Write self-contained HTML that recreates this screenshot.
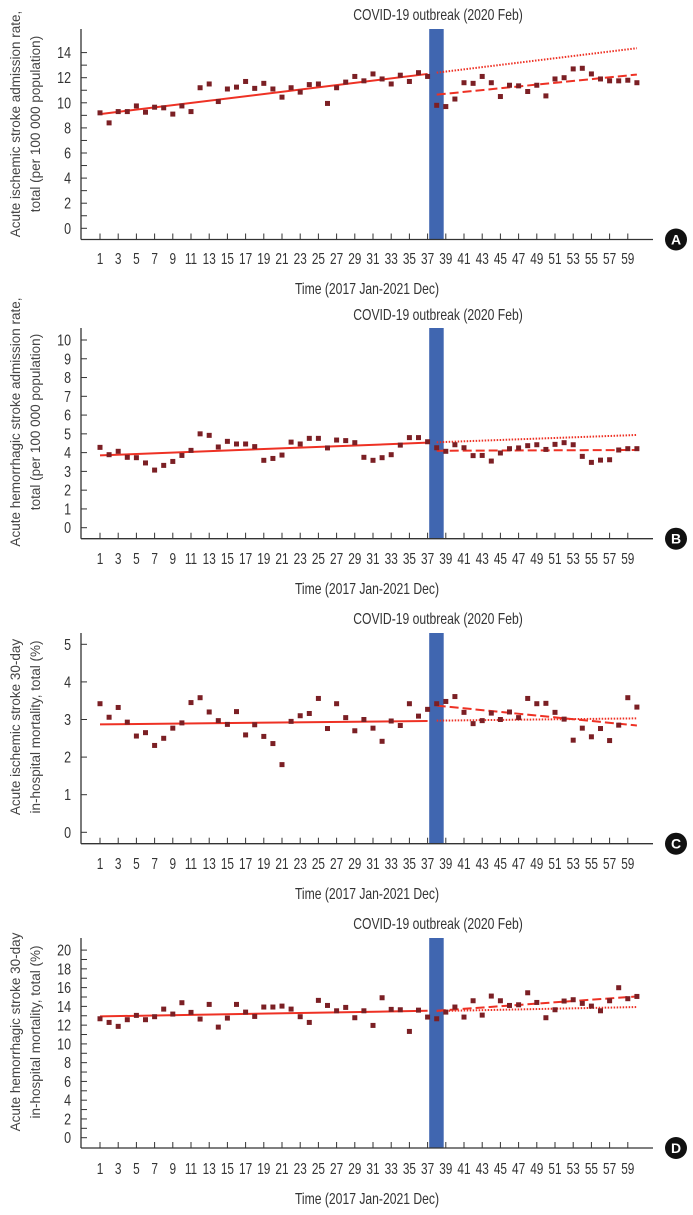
<!DOCTYPE html>
<html><head><meta charset="utf-8"><style>
html,body{margin:0;padding:0;background:#fff;}
svg{display:block;}
text{font-family:"Liberation Sans",sans-serif;}
</style></head><body>
<svg id="chart" width="693" height="1215" viewBox="0 0 693 1215" xmlns="http://www.w3.org/2000/svg"></svg>
<script>
// ---- data ----
const months = Array.from({length:60},(_,i)=>i+1);
const xTickLabels = [1,3,5,7,9,11,13,15,17,19,21,23,25,27,29,31,33,35,37,39,41,43,45,47,49,51,53,55,57,59];
const interventionMonth = 38;

const ischemicAdmission = [9.2,8.4,9.3,9.3,9.75,9.25,9.65,9.6,9.1,9.75,9.3,11.2,11.5,10.1,11.1,11.25,11.7,11.15,11.55,11.1,10.45,11.2,10.85,11.45,11.5,9.95,11.2,11.65,12.1,11.75,12.3,11.9,11.5,12.2,11.7,12.4,12.1,9.8,9.7,10.3,11.6,11.55,12.1,11.6,10.5,11.4,11.35,10.9,11.4,10.55,11.9,12.0,12.7,12.75,12.3,11.9,11.75,11.75,11.8,11.6];
const hemorrhagicAdmission = [4.28,3.89,4.07,3.75,3.73,3.45,3.07,3.32,3.53,3.85,4.12,5.0,4.92,4.3,4.6,4.46,4.46,4.32,3.59,3.69,3.87,4.56,4.46,4.76,4.76,4.25,4.67,4.64,4.53,3.75,3.59,3.73,3.89,4.4,4.8,4.8,4.58,4.26,4.07,4.42,4.26,3.84,3.85,3.55,3.98,4.21,4.25,4.37,4.42,4.17,4.44,4.53,4.42,3.8,3.48,3.6,3.62,4.14,4.21,4.21];
const ischemicMortality = [3.42,3.06,3.32,2.93,2.56,2.65,2.31,2.5,2.77,2.91,3.45,3.58,3.2,2.97,2.87,3.21,2.59,2.86,2.55,2.36,1.8,2.95,3.1,3.16,3.56,2.76,3.42,3.05,2.7,3.0,2.77,2.42,2.96,2.84,3.42,3.09,3.27,3.42,3.48,3.61,3.19,2.89,2.97,3.17,3.0,3.2,3.05,3.56,3.42,3.43,3.19,3.01,2.45,2.77,2.54,2.76,2.44,2.85,3.58,3.33];
const hemorrhagicMortality = [12.68,12.29,11.87,12.58,13.04,12.58,12.9,13.71,13.18,14.39,13.36,12.65,14.21,11.79,12.75,14.21,13.39,12.93,13.93,13.93,14.03,13.71,12.9,12.29,14.64,14.1,13.53,13.89,12.79,13.53,11.97,14.92,13.68,13.64,11.33,13.6,12.86,12.68,13.39,13.93,12.86,14.6,13.07,15.1,14.6,14.1,14.17,15.45,14.42,12.79,13.64,14.57,14.71,14.32,14.03,13.53,14.6,15.99,14.82,15.06];

// trend endpoints [value at start, value at end]
const preTrendA = [9.1,12.3], postTrendA = [10.65,12.25], cfTrendA = [12.4,14.35];
const preTrendB = [3.85,4.53], postTrendB = [4.1,4.14], cfTrendB = [4.55,4.94];
const preTrendC = [2.87,2.96], postTrendC = [3.37,2.84], cfTrendC = [2.97,3.03];
const preTrendD = [12.93,13.53], postTrendD = [13.53,15.06], cfTrendD = [13.5,13.93];

const yTicksA = [0,2,4,6,8,10,12,14];
const yTicksB = [0,1,2,3,4,5,6,7,8,9,10];
const yTicksC = [0,1,2,3,4,5];
const yTicksD = [0,2,4,6,8,10,12,14,16,18,20];

// ---- layout ----
const NS="http://www.w3.org/2000/svg";
const svg=document.getElementById('chart');
function mk(tag,attrs,parent){const e=document.createElementNS(NS,tag);for(const k in attrs)e.setAttribute(k,attrs[k]);(parent||svg).appendChild(e);return e;}
const xAxisLeft=81, xAxisRight=653;
function xScale(m){return 100+(m-1)*9.1;}

const panels=[
 {id:'a',letter:'A',data:ischemicAdmission,pre:preTrendA,post:postTrendA,cf:cfTrendA,ticks:yTicksA,minor:1,y0:228.3,unit:12.55,top:29,axisY:239.5,labY:258,titleY:15,timeY:288,yt1:'Acute ischemic stroke admission rate,',yt2:'total (per 100 000 population)',ytc:124},
 {id:'b',letter:'B',data:hemorrhagicAdmission,pre:preTrendB,post:postTrendB,cf:cfTrendB,ticks:yTicksB,minor:0,y0:527.7,unit:18.77,top:328,axisY:538.7,labY:558,titleY:315,timeY:588,yt1:'Acute hemorrhagic stroke admission rate,',yt2:'total (per 100 000 population)',ytc:422},
 {id:'c',letter:'C',data:ischemicMortality,pre:preTrendC,post:postTrendC,cf:cfTrendC,ticks:yTicksC,minor:0,y0:832.3,unit:37.6,top:633,axisY:843.7,labY:863,titleY:619,timeY:893,yt1:'Acute ischemic stroke 30-day',yt2:'in-hospital mortality, total (%)',ytc:727},
 {id:'d',letter:'D',data:hemorrhagicMortality,pre:preTrendD,post:postTrendD,cf:cfTrendD,ticks:yTicksD,minor:1,y0:1137.7,unit:9.38,top:938,axisY:1148,labY:1168,titleY:924,timeY:1198,yt1:'Acute hemorrhagic stroke 30-day',yt2:'in-hospital mortality, total (%)',ytc:1032}
];

panels.forEach(p=>{
  const g=mk('g',{});
  
  
  const yS=v=>p.y0-v*p.unit;
  // intervention bar
  const bar=mk('rect',{x:xScale(interventionMonth)-7.5,y:p.top,width:14.5,height:p.axisY-p.top,fill:'#4066b0'},g);
  
  
  // axes
  const ya=mk('line',{x1:xAxisLeft,y1:p.top,x2:xAxisLeft,y2:p.axisY,stroke:'#333','stroke-width':1.3},g);
  
  
  const xa=mk('line',{x1:xAxisLeft,y1:p.axisY,x2:xAxisRight,y2:p.axisY,stroke:'#333','stroke-width':1.3},g);
  
  
  // y ticks
  p.ticks.forEach(t=>{
    mk('line',{x1:xAxisLeft,y1:yS(t),x2:xAxisLeft+6,y2:yS(t),stroke:'#333','stroke-width':1},g);
    const tx=mk('text',{x:0,y:0,'font-size':16,fill:'#333','text-anchor':'end',transform:`translate(71,${yS(t)+5.5}) scale(0.78,1)`},g);
    tx.textContent=t;
    
    
    if(p.minor){const s=p.ticks[1]-p.ticks[0];const mv=t+s/2;if(mv<p.ticks[p.ticks.length-1])mk('line',{x1:xAxisLeft,y1:yS(mv),x2:xAxisLeft+6,y2:yS(mv),stroke:'#333','stroke-width':1},g);}
  });
  // x ticks
  xTickLabels.forEach(m=>{
    mk('line',{x1:xScale(m),y1:p.axisY,x2:xScale(m),y2:p.axisY-6,stroke:'#333','stroke-width':1},g);
    const tx=mk('text',{x:0,y:0,'font-size':16,fill:'#333','text-anchor':'middle',transform:`translate(${xScale(m)},${p.labY+6}) scale(0.74,1)`},g);
    tx.textContent=m;
    
    
  });
  // trend lines
  const pre=mk('line',{x1:xScale(1),y1:yS(p.pre[0]),x2:xScale(37),y2:yS(p.pre[1]),stroke:'#ee3124','stroke-width':2},g);
  
  
  const post=mk('line',{x1:xScale(38),y1:yS(p.post[0]),x2:xScale(60),y2:yS(p.post[1]),stroke:'#ee3124','stroke-width':2,'stroke-dasharray':'9,4'},g);
  
  
  const cf=mk('line',{x1:xScale(38),y1:yS(p.cf[0]),x2:xScale(60),y2:yS(p.cf[1]),stroke:'#ee3124','stroke-width':2,'stroke-dasharray':'1.5,1.5'},g);
  
  
  // points
  p.data.forEach((v,i)=>{
    const r=mk('rect',{x:xScale(months[i])-2.5,y:yS(v)-2.5,width:5,height:5,fill:'#7b1f24'},g);
    
    
  });
  // titles
  const tt=mk('text',{x:0,y:0,'font-size':16,fill:'#333','text-anchor':'middle',transform:`translate(438,${p.titleY+5}) scale(0.76,1)`},g);
  tt.textContent='COVID-19 outbreak (2020 Feb)';
  
  
  const tm=mk('text',{x:0,y:0,'font-size':16,fill:'#333','text-anchor':'middle',transform:`translate(367,${p.timeY+6}) scale(0.76,1)`},g);
  tm.textContent='Time (2017 Jan-2021 Dec)';
  
  
  const y1=mk('text',{x:0,y:0,'font-size':13.5,fill:'#444','text-anchor':'middle',transform:`translate(20,${p.ytc}) rotate(-90)`},g);
  y1.textContent=p.yt1;
  
  
  const y2=mk('text',{x:0,y:0,'font-size':13.5,fill:'#444','text-anchor':'middle',transform:`translate(40,${p.ytc}) rotate(-90)`},g);
  y2.textContent=p.yt2;
  
  
  // panel letter
  const c=mk('circle',{cx:676,cy:p.axisY,r:11,fill:'#111'},g);
  
  
  const lt=mk('text',{x:676,y:p.axisY+5,'font-size':14,'font-weight':'bold',fill:'#fff','text-anchor':'middle'},g);
  lt.textContent=p.letter;
  
  
});
</script>
</body></html>
